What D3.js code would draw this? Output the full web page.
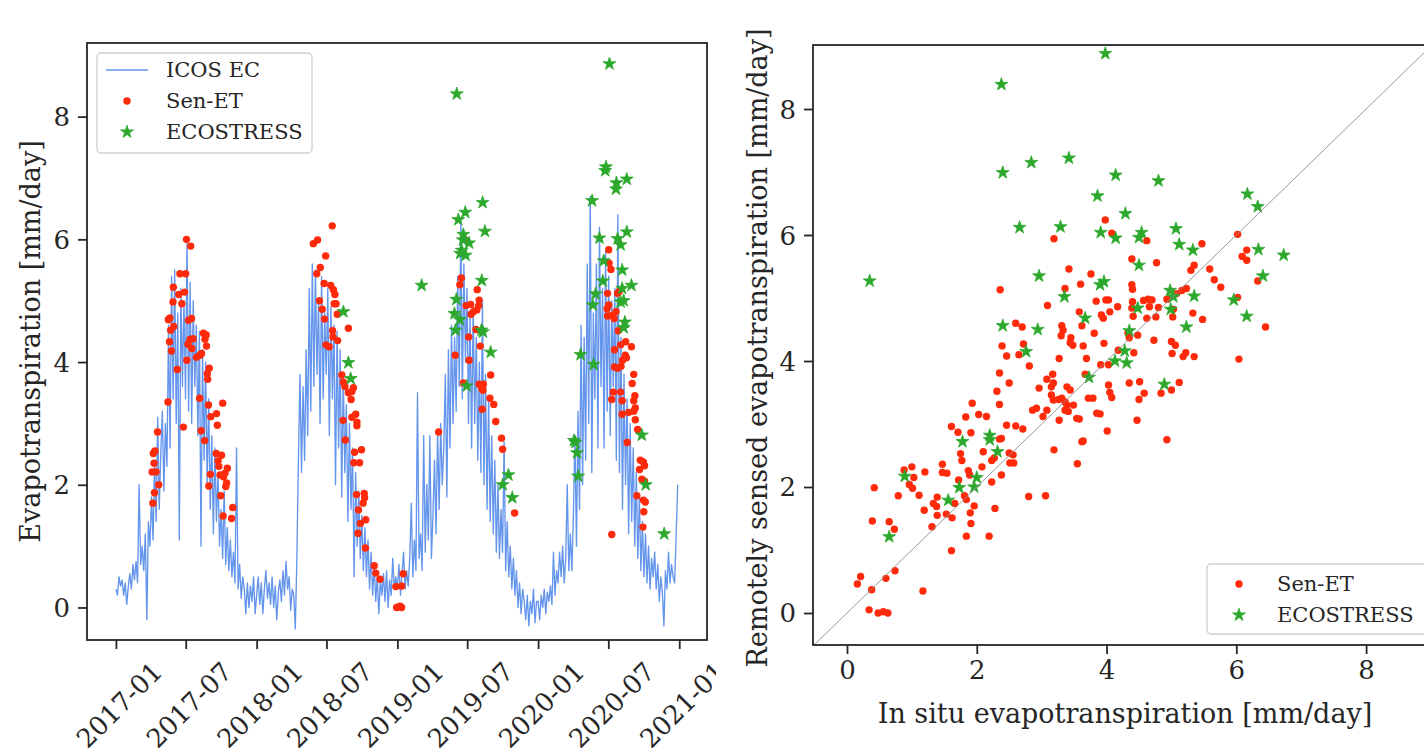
<!DOCTYPE html>
<html><head><meta charset="utf-8">
<script src="https://cdn.jsdelivr.net/npm/d3@7"></script>
<style>
body{margin:0;background:#fff}
svg{display:block}
text{font-family:"DejaVu Serif",serif;fill:#262626}
</style>
</head><body>
<svg id="c" width="1424" height="756"></svg>
<script>
// ---------------- DATA ----------------
// ICOS EC daily evapotranspiration (sampled through each year)
const icos2017 = [0.3,0.2,0.5,0.35,0.45,0.2,0.4,0.05, 0.35,0.55,0.3,0.7,0.45,0.75,0.4,
 2.0,0.7,1.0,0.6,1.2,-0.2,1.4,1.0, 1.8,1.1,2.4,1.4,3.1,1.6,2.5,
 3.2,1.9,3.0,2.3,4.6,2.6,5.4,3.4, 5.5,3.0,4.8,1.1,5.2,3.6,5.0,
 3.4,6.0,3.2,5.3,3.0,5.0,3.6,4.6, 2.8,4.5,1.0,4.2,2.4,4.0,2.0,3.4,
 1.6,2.8,1.2,2.6,1.4,2.2,1.0, 1.6,0.8,1.9,0.7,1.3,0.6,1.1,0.5,
 0.9,0.4,2.6,0.3,0.7,0.15,0.5, 0.3,-0.1,0.4,0.0,0.35,0.1,0.5,-0.1];
const icos2018 = [0.2,0.5,0.05,0.4,-0.1,0.3,0.6,0.15, 0.4,0.05,0.5,0.0,0.35,-0.2,0.25,
 0.45,0.1,0.6,0.2,0.75,0.3,0.5,-0.05, 0.3,0.2,-0.35,0.8,2.4,3.8,2.2,
 3.6,2.4,4.2,2.8,5.2,3.2,5.6,3.6, 5.5,3.8,5.0,3.0,5.4,3.4,4.8,
 3.8,5.2,2.8,4.9,3.4,4.6,2.0,4.5, 2.6,4.2,1.8,3.8,2.2,3.3,1.4,3.0,
 1.6,2.6,0.5,2.2,1.0,1.9,0.8, 1.5,0.6,1.3,0.5,1.1,0.3,0.9,0.2,
 0.7,0.1,0.5,-0.1,0.45,0.2,0.55, 0.1,0.6,0.0,0.45,0.2,0.8,0.3,0.5];
const icos2019 = [0.3,0.7,0.2,0.55,0.9,0.3,0.6,0.35, 0.8,1.7,0.5,1.1,0.6,3.5,0.8,
 1.2,0.6,2.8,0.9,2.0,1.1,2.8,0.8, 1.5,2.4,1.2,2.9,1.6,3.0,2.0,
 2.6,3.8,1.8,4.2,2.6,4.6,3.0,4.4, 3.2,5.4,3.6,6.3,3.4,5.6,4.0,
 5.2,3.0,4.8,2.6,4.9,3.0,4.4,2.4, 4.0,2.2,5.0,2.0,3.8,1.6,3.4,1.4,
 2.8,1.2,2.4,0.9,2.0,0.8,1.6, 0.9,2.7,0.6,1.4,0.5,1.0,0.3,0.8,
 0.2,0.6,0.0,0.4,-0.1,0.3,0.1, -0.2,0.2,-0.3,0.1,-0.1,0.3,-0.25,0.1];
const icos2020 = [0.1,-0.2,0.2,0.0,0.3,-0.1,0.25,0.1, 0.35,0.05,0.9,0.2,0.6,0.4,0.9,
 0.5,1.0,0.4,0.8,2.0,0.6,1.2,0.6, 1.5,2.8,1.0,3.2,1.6,4.6,2.0,
 4.4,2.4,5.6,3.0,6.7,2.2,4.8,3.4, 5.6,2.6,6.2,3.6,5.2,2.6,5.8,
 3.2,5.4,2.8,5.0,3.6,5.2,2.4,6.4, 2.2,4.4,1.6,3.8,2.0,3.4,1.2,3.0,
 1.4,2.6,1.0,2.2,0.8,1.8,0.6, 1.4,0.5,1.2,0.4,1.0,0.3,0.8,0.5,
 0.9,0.3,0.7,0.1,0.5,0.25,-0.3, 0.6,0.3,0.9,0.4,0.7,0.5,0.4,1.2,2.0];

// Sen-ET (date, ET mm/day)
const senET = [
 ["2017-04-05",2.21],["2017-04-07",1.70],["2017-04-08",2.51],["2017-04-10",2.35],["2017-04-11",1.87],["2017-04-12",2.55],["2017-04-15",2.21],["2017-04-19",2.86],["2017-04-22",2.00],
 ["2017-05-16",3.35],["2017-05-17",4.69],["2017-05-20",4.33],["2017-05-21",4.72],["2017-05-23",4.52],["2017-05-25",4.18],["2017-05-29",4.98],["2017-05-30",5.22],["2017-05-31",4.58],
 ["2017-06-09",3.88],["2017-06-13",5.10],["2017-06-16",5.44],["2017-06-21",4.95],["2017-06-25",2.94],["2017-06-28",5.14],
 ["2017-07-01",5.44],["2017-07-03",6.00],["2017-07-04",4.03],["2017-07-07",4.29],["2017-07-08",4.68],["2017-07-12",4.37],["2017-07-14",5.89],["2017-07-16",4.71],["2017-07-17",4.22],["2017-07-20",4.38],["2017-07-29",4.08],
 ["2017-08-06",3.41],["2017-08-07",4.11],["2017-08-10",2.88],["2017-08-11",4.14],["2017-08-16",4.47],["2017-08-19",2.72],["2017-08-20",4.37],["2017-08-23",4.44],["2017-08-24",4.26],["2017-08-26",3.81],["2017-08-27",3.72],["2017-08-29",3.30],["2017-08-30",1.98],["2017-08-31",3.90],
 ["2017-09-03",2.17],["2017-09-04",3.11],["2017-09-18",2.51],["2017-09-19",3.16],["2017-09-21",2.97],["2017-09-23",2.39],["2017-09-25",2.30],["2017-09-28",2.16],["2017-09-30",1.82],
 ["2017-10-02",2.48],["2017-10-05",3.33],["2017-10-06",1.49],["2017-10-07",2.13],["2017-10-11",2.19],["2017-10-13",1.97],["2017-10-15",2.03],["2017-10-17",2.27],["2017-10-28",1.45],["2017-10-31",1.63],
 ["2018-05-28",5.93],["2018-06-06",5.44],["2018-06-08",5.99],["2018-06-13",5.00],["2018-06-15",5.54],["2018-06-20",4.86],["2018-06-25",5.28],["2018-06-26",4.70],["2018-06-29",5.73],["2018-06-30",4.28],
 ["2018-07-08",4.25],["2018-07-12",5.25],["2018-07-16",6.22],["2018-07-17",4.51],["2018-07-18",4.41],["2018-07-19",5.18],["2018-07-21",4.95],["2018-07-23",5.10],["2018-07-26",4.95],["2018-07-29",4.78],["2018-07-30",4.35],
 ["2018-08-10",3.79],["2018-08-13",3.05],["2018-08-14",3.67],["2018-08-18",3.60],["2018-08-19",2.73],["2018-08-27",3.50],["2018-08-27",4.55],
 ["2018-09-03",3.39],["2018-09-05",3.52],["2018-09-05",3.10],["2018-09-09",3.58],["2018-09-10",2.36],["2018-09-12",2.53],["2018-09-15",3.15],["2018-09-18",3.02],["2018-09-18",2.96],["2018-09-17",1.84],["2018-09-21",1.21],["2018-09-22",1.59],["2018-09-25",2.36],["2018-09-27",1.37],["2018-09-30",2.57],
 ["2018-10-04",1.70],["2018-10-07",1.86],["2018-10-08",1.79],["2018-10-10",0.97],["2018-10-11",1.43],
 ["2018-11-02",0.68],["2018-11-06",0.56],["2018-11-17",0.46],["2018-12-28",0.34],["2018-12-30",0.00],
 ["2019-01-04",0.01],["2019-01-08",0.02],["2019-01-12",0.35],["2019-01-12",0.00],["2019-01-16",0.55],
 ["2019-04-18",2.86],["2019-05-31",4.11],["2019-06-12",5.26],["2019-06-16",5.37],["2019-06-21",3.66],["2019-06-24",6.00],["2019-06-28",4.92],
 ["2019-07-05",4.41],["2019-07-06",4.03],["2019-07-10",4.94],["2019-07-11",4.78],["2019-07-17",4.82],["2019-07-24",4.53],["2019-07-26",4.85],["2019-07-27",5.18],["2019-07-31",4.92],
 ["2019-08-01",5.01],["2019-08-01",3.64],["2019-08-04",4.26],["2019-08-08",3.57],["2019-08-09",3.23],["2019-08-11",3.54],["2019-08-12",3.64],["2019-08-29",3.41],["2019-08-31",3.79],
 ["2019-09-08",3.31],["2019-09-13",3.03],["2019-09-28",2.76],["2019-10-01",2.58],["2019-11-01",1.54],
 ["2020-06-28",4.87],["2020-06-29",5.12],["2020-06-29",4.75],["2020-07-02",5.83],["2020-07-02",4.93],["2020-07-03",5.61],["2020-07-08",5.51],["2020-07-10",4.76],["2020-07-10",3.39],["2020-07-10",1.19],
 ["2020-07-14",3.51],["2020-07-16",4.71],["2020-07-17",4.20],["2020-07-17",3.92],["2020-07-21",4.82],["2020-07-25",5.12],["2020-07-25",3.90],["2020-07-27",4.51],["2020-07-29",5.15],
 ["2020-08-02",4.28],["2020-08-02",3.51],["2020-08-03",3.93],["2020-08-06",3.37],["2020-08-06",3.15],["2020-08-07",4.03],["2020-08-14",4.11],["2020-08-15",4.33],["2020-08-17",4.07],["2020-08-19",2.69],["2020-08-23",3.18],["2020-08-30",4.25],
 ["2020-09-01",3.65],["2020-09-05",3.80],["2020-09-05",3.37],["2020-09-05",3.20],["2020-09-08",3.45],["2020-09-09",3.25],["2020-09-09",3.06],["2020-09-13",1.82],["2020-09-15",2.90],["2020-09-20",2.25],["2020-09-22",2.40],["2020-09-26",2.09],["2020-09-29",1.31],["2020-09-30",2.37],["2020-09-30",1.75],
 ["2020-10-01",1.56],["2020-10-03",2.31],["2020-10-03",2.06],["2020-10-05",1.72]];

// ECOSTRESS (date, ET mm/day)
const ecostress = [
 ["2018-08-14",4.82],["2018-08-27",3.99],["2018-09-02",3.73],
 ["2019-03-05",5.25],["2019-05-29",4.79],["2019-06-01",4.52],["2019-06-03",5.02],["2019-06-04",8.37],["2019-06-08",6.32],["2019-06-12",4.69],["2019-06-13",5.77],["2019-06-17",5.82],["2019-06-20",5.99],["2019-06-21",6.08],["2019-06-26",6.44],["2019-06-27",5.74],["2019-06-30",3.61],["2019-07-06",5.94],
 ["2019-08-07",4.52],["2019-08-08",5.33],["2019-08-10",6.60],["2019-08-11",4.49],["2019-08-16",6.13],["2019-08-31",4.16],["2019-10-01",2.00],["2019-10-16",2.16],["2019-10-26",1.79],
 ["2020-04-03",2.72],["2020-04-07",2.69],["2020-04-11",2.52],["2020-04-14",2.14],["2020-04-20",4.12],["2020-05-20",6.63],["2020-05-22",4.93],["2020-05-24",3.96],["2020-05-29",5.11],
 ["2020-06-08",6.02],["2020-06-17",5.32],["2020-06-19",5.65],["2020-06-23",7.12],["2020-06-25",7.18],["2020-07-04",8.86],["2020-07-21",6.82],["2020-07-22",6.92],["2020-07-25",6.01],
 ["2020-08-02",5.91],["2020-08-02",4.98],["2020-08-06",5.50],["2020-08-06",5.20],["2020-08-10",5.00],["2020-08-10",4.56],["2020-08-13",4.65],["2020-08-18",6.98],["2020-08-18",6.12],["2020-08-30",5.25],
 ["2020-09-26",2.81],["2020-10-06",2.00],["2020-11-23",1.20]];

// Scatter: [in situ, remotely sensed]
const senScatter = [
 [2.35,3.81],[2.31,3.52],[2.35,3.31],[1.93,3.33],[2.03,3.15],[1.83,3.11],[2.15,3.12],[1.61,2.96],[1.71,2.87],[1.91,2.86],[2.35,2.76],[1.75,2.53],[2.10,2.56],[1.77,2.42],[2.23,2.42],[2.27,2.46],
 [1.47,2.36],[2.08,2.32],[0.88,2.27],[1.00,2.32],[1.03,2.15],[1.20,2.24],[1.47,2.23],[1.54,2.22],[1.87,2.26],[1.89,2.19],[0.96,2.04],[1.01,1.98],[2.23,2.08],[2.38,2.19],[0.79,1.86],[1.11,1.87],
 [1.39,1.84],[1.72,2.11],[1.81,1.86],[1.84,1.80],[1.33,1.74],[1.38,1.69],[1.66,1.74],[1.96,1.70],[1.19,1.63],[2.28,1.66],[1.39,1.55],[1.53,1.57],[1.62,1.51],[1.90,1.59],[1.91,1.42],[0.39,1.46],
 [0.65,1.45],[0.73,1.33],[1.31,1.37],[1.84,1.22],[2.19,1.22],[1.61,0.99],[0.74,0.67],[0.60,0.55],[0.21,0.58],[0.16,0.46],[0.38,0.37],[1.17,0.35],[0.34,0.05],[0.48,0.00],[0.56,0.02],[0.63,0.00],
 [0.42,1.99],[2.80,1.85],[3.06,1.86],[3.55,2.37],[2.51,2.38],[2.57,2.38],
 [3.98,6.24],[3.19,5.94],[4.08,6.03],[4.62,5.91],[6.02,6.01],[5.47,5.86],[6.16,5.76],[6.09,5.66],[6.16,5.60],[4.39,5.62],[4.77,5.56],[5.35,5.52],[5.30,5.44],[3.42,5.46],[5.59,5.46],[3.76,5.38],
 [5.66,5.29],[5.76,5.17],[6.33,5.27],[3.60,5.22],[3.36,5.15],[4.39,5.21],[4.40,5.14],[5.23,5.15],[5.16,5.12],[5.08,5.07],[6.02,5.01],[3.09,4.88],[3.84,4.95],[3.99,4.97],[4.03,4.97],[4.17,4.86],
 [3.58,4.78],[3.92,4.73],[3.95,4.68],[4.05,4.78],[4.40,4.94],[4.39,4.84],[4.41,4.71],[4.57,4.96],[4.64,4.98],[4.70,4.97],[4.66,4.86],[4.62,4.68],[4.76,4.70],[4.80,4.85],[4.93,4.98],[5.02,4.70],
 [5.03,4.82],[5.33,4.76],[5.48,4.66],[6.45,4.54],[2.60,4.60],[2.70,4.54],[2.39,4.24],[2.72,4.27],[2.46,4.08],[2.65,4.10],[2.81,3.92],[3.31,4.56],[3.30,4.40],[3.33,4.49],[3.45,4.37],[3.48,4.25],
 [3.44,4.29],[3.62,4.56],[3.81,4.44],[3.64,4.24],[3.96,4.28],[3.27,4.04],[3.69,4.04],[3.91,3.94],[4.03,3.94],[4.18,4.17],[4.42,4.13],[4.33,4.44],[4.35,4.37],[4.48,4.41],[4.73,4.33],[5.00,4.31],
 [5.06,4.25],[5.22,4.13],[5.18,4.07],[5.01,4.12],[5.35,4.07],[6.04,4.03],[2.50,3.65],[3.08,3.71],[3.17,3.79],[3.18,3.65],[3.15,3.59],[2.96,3.57],[3.39,3.59],[3.44,3.54],[3.67,3.79],[4.03,3.62],
 [4.05,3.50],[4.08,3.42],[4.35,3.65],[4.51,3.67],[4.50,3.39],[4.58,3.49],[4.84,3.49],[5.00,3.54],[5.12,3.66],[3.15,3.46],[3.18,3.38],[3.26,3.39],[3.31,3.41],[3.36,3.35],[3.39,3.30],[3.41,3.20],
 [3.49,3.30],[3.36,3.22],[3.72,3.41],[3.79,3.41],[3.08,3.22],[2.86,3.22],[2.92,3.25],[3.02,3.12],[3.27,3.06],[3.54,3.09],[3.58,3.08],[3.85,3.17],[3.90,3.16],[4.47,3.06],[2.46,2.98],[2.60,2.97],
 [2.71,2.92],[2.38,2.77],[4.01,2.89],[3.19,2.59],[3.62,2.72],[3.64,2.73],[4.93,2.75],[2.50,2.54],[2.56,2.51],[2.36,5.13]];
const ecoScatter = [
 [3.98,8.88],[2.38,8.39],[2.84,7.15],[3.42,7.22],[2.40,6.99],[4.14,6.95],[4.80,6.86],[3.86,6.62],[6.17,6.65],[6.33,6.45],[4.29,6.34],[2.66,6.12],[3.29,6.13],[3.91,6.04],[4.14,5.95],[4.54,6.04],
 [4.50,5.96],[5.07,6.10],[5.12,5.85],[5.33,5.76],[4.50,5.52],[6.34,5.77],[6.73,5.68],[2.96,5.35],[6.41,5.35],[3.90,5.21],[3.96,5.26],[3.35,5.02],[4.98,5.12],[5.03,5.02],[5.35,5.03],[5.96,4.97],
 [4.99,4.82],[4.48,4.84],[2.40,4.56],[2.94,4.50],[3.67,4.68],[5.23,4.54],[6.16,4.71],[4.35,4.48],[2.76,4.15],[4.28,4.16],[4.31,3.97],[4.13,4.00],[3.73,3.74],[4.89,3.63],[0.35,5.27],[1.78,2.72],
 [2.20,2.82],[2.20,2.75],[2.32,2.56],[0.89,2.17],[2.00,2.15],[1.96,2.00],[1.73,1.99],[1.56,1.79],[0.65,1.21]];

// Ticks and labels
const xTicksLeft = ["2017-01","2017-07","2018-01","2018-07","2019-01","2019-07","2020-01","2020-07","2021-01"];
const yTicksLeft = [0,2,4,6,8];
const xTicksRight = [0,2,4,6,8];
const yTicksRight = [0,2,4,6,8];
const seriesNames = ["ICOS EC","Sen-ET","ECOSTRESS"];
const yLabelLeft = "Evapotranspiration [mm/day]";
const yLabelRight = "Remotely sensed evapotranspiration [mm/day]";
const xLabelRight = "In situ evapotranspiration [mm/day]";

// ---------------- DRAWING ----------------
const svg = d3.select("#c");
svg.append("rect").attr("width",1424).attr("height",756).attr("fill","#fff");
const parse = d3.timeParse("%Y-%m-%d");
const parseM = d3.timeParse("%Y-%m");
const INK = "#262626", BLUE = "#6495ed", RED = "#ff2a0a", GREEN = "#2ca82c";
const TICK = 26, LAB = 27, LEG = 21, DOT = 3.7;

// ICOS series with dates spread evenly through each year
const icosYears = [[2017,icos2017],[2018,icos2018],[2019,icos2019],[2020,icos2020]];
const icos = [];
icosYears.forEach(([yr, arr]) => {
  const s = new Date(yr,0,1), e = new Date(yr+1,0,1);
  const step = (e - s) / arr.length;
  arr.forEach((v,i) => icos.push({date:new Date(+s + i*step), v}));
});

// ---- Left panel ----
const L = {x0:87, x1:707, y0:43, y1:640};
const xL = d3.scaleTime().domain([parse("2016-10-18"), parse("2021-03-14")]).range([L.x0, L.x1]);
const yL = d3.scaleLinear().domain([-0.53, 9.2]).range([L.y1, L.y0]);

svg.append("clipPath").attr("id","clipL").append("rect")
  .attr("x",L.x0).attr("y",L.y0).attr("width",L.x1-L.x0).attr("height",L.y1-L.y0);
svg.append("clipPath").attr("id","clipLeftFig").append("rect")
  .attr("x",0).attr("y",0).attr("width",716).attr("height",756);
const gL = svg.append("g").attr("clip-path","url(#clipL)");
gL.append("path").datum(icos)
  .attr("fill","none").attr("stroke",BLUE).attr("stroke-width",1.35).attr("stroke-linejoin","round")
  .attr("d", d3.line().x(d=>xL(d.date)).y(d=>yL(d.v)));
gL.selectAll("circle.sen").data(senET).join("circle").attr("class","sen")
  .attr("cx",d=>xL(parse(d[0]))).attr("cy",d=>yL(d[1])).attr("r",DOT).attr("fill",RED);
const star = d3.symbol(d3.symbolStar).size(52);
gL.selectAll("path.eco").data(ecostress).join("path").attr("class","eco")
  .attr("d",star).attr("transform",d=>`translate(${xL(parse(d[0]))},${yL(d[1])})`)
  .attr("fill",GREEN).attr("stroke",GREEN).attr("stroke-width",0.8);

function styleAxis(g){
  g.select(".domain").remove();
  g.attr("font-family","DejaVu Serif").attr("font-size",TICK).style("color",INK);
  g.selectAll(".tick line").attr("stroke-width",1.8);
}
const axL = svg.append("g").attr("clip-path","url(#clipLeftFig)").append("g").attr("transform",`translate(0,${L.y1})`)
  .call(d3.axisBottom(xL).tickValues(xTicksLeft.map(parseM)).tickFormat(d3.timeFormat("%Y-%m")).tickSize(9).tickPadding(9));
styleAxis(axL);
axL.selectAll(".tick text").each(function(){
  const t = d3.select(this);
  const len = this.getComputedTextLength();
  const half = (len + TICK*0.85) / (2*Math.SQRT2);
  t.attr("y",0).attr("dy",null).attr("text-anchor","middle").attr("dominant-baseline","central")
   .attr("transform",`translate(3,${9+10+half}) rotate(-45)`);
});
const ayL = svg.append("g").attr("transform",`translate(${L.x0},0)`)
  .call(d3.axisLeft(yL).tickValues(yTicksLeft).tickFormat(d3.format("d")).tickSize(9).tickPadding(8));
styleAxis(ayL);
ayL.selectAll(".tick text").attr("dy",null).attr("dominant-baseline","central");
svg.append("rect").attr("x",L.x0).attr("y",L.y0).attr("width",L.x1-L.x0).attr("height",L.y1-L.y0)
  .attr("fill","none").attr("stroke",INK).attr("stroke-width",1.8);
svg.append("text").attr("transform",`translate(30,${(L.y0+L.y1)/2}) rotate(-90)`)
  .attr("text-anchor","middle").attr("dominant-baseline","central").attr("font-size",LAB).text(yLabelLeft);

// Left legend
const lg = svg.append("g");
lg.append("rect").attr("x",97).attr("y",53).attr("width",215).attr("height",100).attr("rx",4)
  .attr("fill","#fff").attr("fill-opacity",0.85).attr("stroke","#cfcfcf").attr("stroke-width",1.3);
const rowsL = [70,101,132];
lg.append("line").attr("x1",106).attr("x2",148).attr("y1",rowsL[0]).attr("y2",rowsL[0]).attr("stroke",BLUE).attr("stroke-width",1.4);
lg.append("circle").attr("cx",127).attr("cy",rowsL[1]).attr("r",DOT).attr("fill",RED);
lg.append("path").attr("d",star).attr("transform",`translate(127,${rowsL[2]})`).attr("fill",GREEN).attr("stroke",GREEN).attr("stroke-width",0.8);
seriesNames.forEach((n,i)=>lg.append("text").attr("x",166).attr("y",rowsL[i]).attr("dominant-baseline","central").attr("font-size",LEG).text(n));

// ---- Right panel ----
const R = {x0:813, x1:1431, y0:45, y1:645};
const xR = d3.scaleLinear().domain([-0.524, 9.0]).range([R.x0, R.x1]);
const yR = d3.scaleLinear().domain([-0.508, 9.016]).range([R.y1, R.y0]);
svg.append("clipPath").attr("id","clipR").append("rect")
  .attr("x",R.x0).attr("y",R.y0).attr("width",R.x1-R.x0).attr("height",R.y1-R.y0);
const gR = svg.append("g").attr("clip-path","url(#clipR)");
gR.selectAll("circle").data(senScatter).join("circle")
  .attr("cx",d=>xR(d[0])).attr("cy",d=>yR(d[1])).attr("r",DOT).attr("fill",RED);
gR.selectAll("path.eco").data(ecoScatter).join("path").attr("class","eco")
  .attr("d",star).attr("transform",d=>`translate(${xR(d[0])},${yR(d[1])})`)
  .attr("fill",GREEN).attr("stroke",GREEN).attr("stroke-width",0.8);
gR.append("line").attr("x1",xR(-0.6)).attr("y1",yR(-0.6)).attr("x2",xR(9.2)).attr("y2",yR(9.2))
  .attr("stroke","#8c8c8c").attr("stroke-width",0.9);

const axR = svg.append("g").attr("transform",`translate(0,${R.y1})`)
  .call(d3.axisBottom(xR).tickValues(xTicksRight).tickFormat(d3.format("d")).tickSize(9).tickPadding(7));
styleAxis(axR);
const ayR = svg.append("g").attr("transform",`translate(${R.x0},0)`)
  .call(d3.axisLeft(yR).tickValues(yTicksRight).tickFormat(d3.format("d")).tickSize(9).tickPadding(8));
styleAxis(ayR);
ayR.selectAll(".tick text").attr("dy",null).attr("dominant-baseline","central");
svg.append("rect").attr("x",R.x0).attr("y",R.y0).attr("width",R.x1-R.x0).attr("height",R.y1-R.y0)
  .attr("fill","none").attr("stroke",INK).attr("stroke-width",1.8);
svg.append("text").attr("transform",`translate(757,${(R.y0+R.y1)/2 + 3}) rotate(-90)`)
  .attr("text-anchor","middle").attr("dominant-baseline","central").attr("font-size",LAB).text(yLabelRight);
svg.append("text").attr("x",(R.x0+R.x1)/2 + 3).attr("y",713)
  .attr("text-anchor","middle").attr("dominant-baseline","central").attr("font-size",LAB).text(xLabelRight);

// Right legend
const rg = svg.append("g");
rg.append("rect").attr("x",1207).attr("y",564).attr("width",260).attr("height",70).attr("rx",4)
  .attr("fill","#fff").attr("fill-opacity",0.85).attr("stroke","#cfcfcf").attr("stroke-width",1.3);
const rowsR = [584,615];
rg.append("circle").attr("cx",1239).attr("cy",rowsR[0]).attr("r",DOT).attr("fill",RED);
rg.append("path").attr("d",star).attr("transform",`translate(1239,${rowsR[1]})`).attr("fill",GREEN).attr("stroke",GREEN).attr("stroke-width",0.8);
[seriesNames[1],seriesNames[2]].forEach((n,i)=>rg.append("text").attr("x",1277).attr("y",rowsR[i]).attr("dominant-baseline","central").attr("font-size",LEG).text(n));
</script>
</body></html>
